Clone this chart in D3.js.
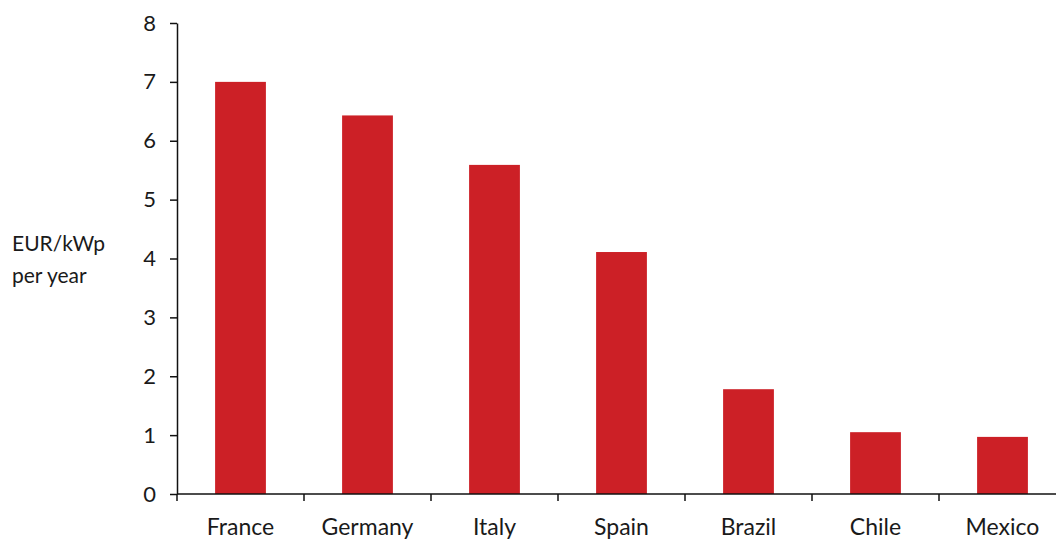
<!DOCTYPE html>
<html>
<head>
<meta charset="utf-8">
<script src="https://cdn.jsdelivr.net/npm/d3@7"></script>
<style>
  body { margin: 0; background: #fff; }
  svg text { font-family: "Lato", "Open Sans", sans-serif; fill: #1a1a1a; }
</style>
</head>
<body>
<div id="chart"></div>
<script>
const countries = ['France', 'Germany', 'Italy', 'Spain', 'Brazil', 'Chile', 'Mexico'];
const values = [7.0, 6.43, 5.59, 4.11, 1.78, 1.05, 0.97];
const yTicks = [0, 1, 2, 3, 4, 5, 6, 7, 8];
const yLabel = ['EUR/kWp', 'per year'];

const width = 1056, height = 542;
const plotLeft = 177, plotRight = 1066, plotTop = 23, plotBottom = 494;

const svg = d3.select('#chart').append('svg')
  .attr('width', width).attr('height', height);

const x = d3.scaleBand().domain(countries).range([plotLeft, plotRight])
  .paddingInner(0.6).paddingOuter(0.3);
const y = d3.scaleLinear().domain([0, 8]).range([plotBottom, plotTop]);

// bars
svg.selectAll('rect.bar')
  .data(countries)
  .enter().append('rect')
  .attr('class', 'bar')
  .attr('x', d => x(d))
  .attr('width', x.bandwidth())
  .attr('y', (d, i) => y(values[i]))
  .attr('height', (d, i) => y(0) - y(values[i]))
  .attr('fill', '#cc2026');

// y axis
const yAxis = svg.append('g')
  .attr('transform', `translate(${plotLeft},0)`)
  .call(d3.axisLeft(y).tickValues(yTicks).tickSize(7).tickPadding(14).tickSizeOuter(0));
yAxis.select('.domain').attr('stroke', '#111').attr('stroke-width', 1.5);
yAxis.selectAll('.tick line').attr('stroke', '#111').attr('stroke-width', 1.5);
yAxis.selectAll('.tick text').style('font-size', '22px').attr('fill', '#1a1a1a');

// x axis line
svg.append('line')
  .attr('x1', plotLeft).attr('x2', plotRight)
  .attr('y1', y(0)).attr('y2', y(0))
  .attr('stroke', '#111').attr('stroke-width', 1.5);

// boundary ticks between categories
const bounds = countries.map(c => x(c) - x.step() * x.paddingOuter());
svg.selectAll('line.xtick')
  .data(bounds)
  .enter().append('line')
  .attr('class', 'xtick')
  .attr('x1', d => d).attr('x2', d => d)
  .attr('y1', y(0)).attr('y2', y(0) + 7)
  .attr('stroke', '#111').attr('stroke-width', 1.5);

// category labels
svg.selectAll('text.cat')
  .data(countries)
  .enter().append('text')
  .attr('class', 'cat')
  .attr('x', d => x(d) + x.bandwidth() / 2)
  .attr('y', 535)
  .attr('text-anchor', 'middle')
  .style('font-size', '23px')
  .text(d => d);

// y label
svg.selectAll('text.ylab')
  .data(yLabel)
  .enter().append('text')
  .attr('class', 'ylab')
  .attr('x', 12)
  .attr('y', (d, i) => 251 + i * 32)
  .style('font-size', '21px')
  .text(d => d);
</script>
</body>
</html>
